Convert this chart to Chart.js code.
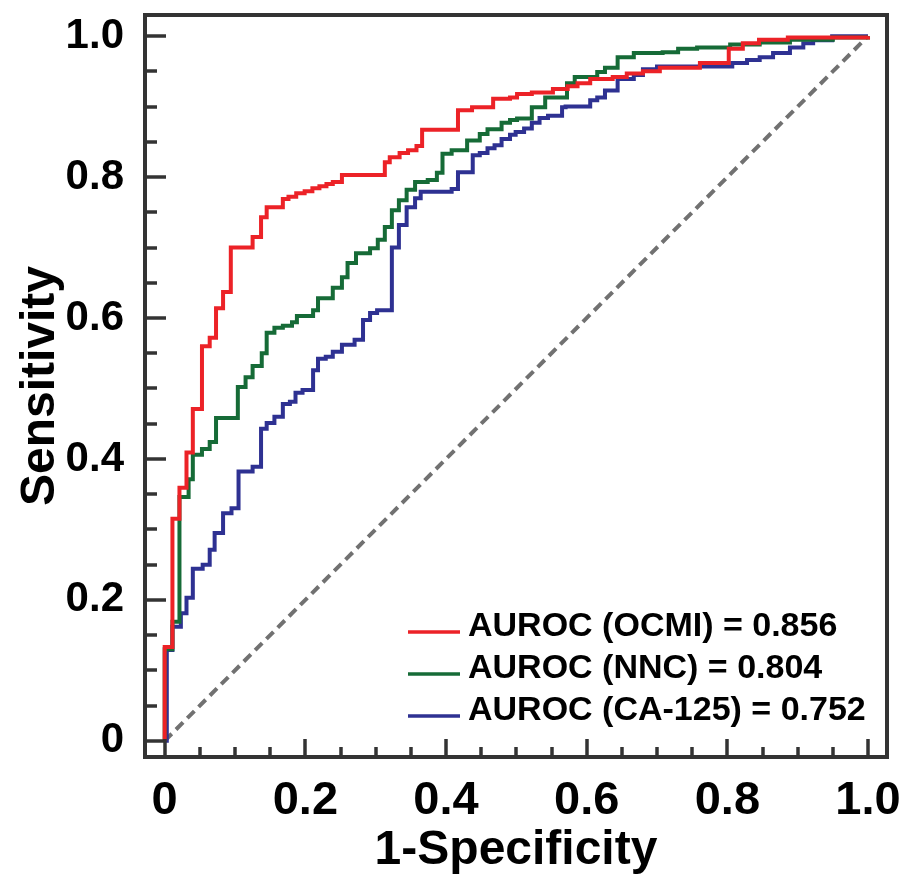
<!DOCTYPE html>
<html>
<head>
<meta charset="utf-8">
<script src="https://cdn.jsdelivr.net/npm/chart.js@4.4.0/dist/chart.umd.min.js"></script>
<style>
  body { margin: 0; background: #fff; }
  #wrap { width: 909px; height: 876px; }
</style>
</head>
<body>
<div id="wrap"><canvas id="roc" width="909" height="876"></canvas></div>
<script>
// Данные ROC-кривых (x = 1-Specificity, y = Sensitivity), ступеньки
const ocmiPoints = [
    [0, 0], [0, 0.133], [0.011, 0.315], [0.021, 0.359], [0.031, 0.409], [0.040, 0.471],
    [0.053, 0.560], [0.064, 0.572], [0.073, 0.614], [0.083, 0.637], [0.094, 0.700],
    [0.125, 0.715], [0.137, 0.743], [0.145, 0.757], [0.168, 0.769], [0.176, 0.772],
    [0.187, 0.777], [0.199, 0.780], [0.210, 0.784], [0.220, 0.787], [0.230, 0.790],
    [0.239, 0.793], [0.252, 0.803], [0.313, 0.821], [0.320, 0.828], [0.334, 0.834],
    [0.346, 0.838], [0.358, 0.844], [0.366, 0.867], [0.417, 0.895], [0.437, 0.899],
    [0.467, 0.911], [0.491, 0.913], [0.501, 0.918], [0.522, 0.920], [0.552, 0.925],
    [0.573, 0.929], [0.587, 0.933], [0.605, 0.939], [0.637, 0.942], [0.657, 0.947],
    [0.680, 0.950], [0.704, 0.955], [0.761, 0.962], [0.802, 0.982], [0.822, 0.990],
    [0.845, 0.995], [0.886, 0.998], [1.0, 1.0]
];
const nncPoints = [
    [0, 0], [0, 0.130], [0.011, 0.169], [0.021, 0.346], [0.034, 0.371], [0.040, 0.406],
    [0.053, 0.414], [0.064, 0.424], [0.073, 0.458], [0.104, 0.502], [0.115, 0.516],
    [0.125, 0.532], [0.138, 0.550], [0.145, 0.579], [0.156, 0.586], [0.168, 0.589],
    [0.181, 0.594], [0.188, 0.603], [0.211, 0.611], [0.218, 0.628], [0.239, 0.643],
    [0.252, 0.658], [0.260, 0.678], [0.272, 0.692], [0.292, 0.699], [0.303, 0.711],
    [0.313, 0.729], [0.323, 0.753], [0.333, 0.767], [0.344, 0.782], [0.356, 0.793],
    [0.374, 0.796], [0.387, 0.806], [0.395, 0.833], [0.408, 0.838], [0.430, 0.852],
    [0.448, 0.861], [0.459, 0.868], [0.479, 0.877], [0.491, 0.881], [0.501, 0.883],
    [0.522, 0.899], [0.541, 0.913], [0.572, 0.933], [0.583, 0.942], [0.615, 0.949],
    [0.626, 0.955], [0.644, 0.970], [0.667, 0.976], [0.708, 0.977], [0.730, 0.982],
    [0.757, 0.984], [0.804, 0.988], [0.846, 0.991], [0.889, 0.995], [0.950, 0.998],
    [1.0, 1.0]
];
const ca125Points = [
    [0, 0], [0.003, 0.129], [0.011, 0.162], [0.023, 0.181], [0.031, 0.203], [0.040, 0.244],
    [0.054, 0.250], [0.064, 0.271], [0.071, 0.295], [0.083, 0.323], [0.095, 0.330],
    [0.105, 0.382], [0.125, 0.389], [0.137, 0.443], [0.145, 0.451], [0.156, 0.460],
    [0.168, 0.478], [0.178, 0.481], [0.186, 0.494], [0.196, 0.498], [0.211, 0.526],
    [0.218, 0.542], [0.229, 0.545], [0.239, 0.552], [0.252, 0.562], [0.270, 0.569],
    [0.282, 0.597], [0.292, 0.607], [0.302, 0.611], [0.323, 0.700], [0.333, 0.732],
    [0.344, 0.757], [0.356, 0.770], [0.364, 0.779], [0.408, 0.783], [0.417, 0.807],
    [0.438, 0.831], [0.448, 0.834], [0.459, 0.841], [0.469, 0.845], [0.479, 0.854],
    [0.491, 0.860], [0.499, 0.864], [0.511, 0.869], [0.522, 0.877], [0.533, 0.884],
    [0.545, 0.887], [0.565, 0.899], [0.570, 0.900], [0.605, 0.909], [0.615, 0.913],
    [0.626, 0.923], [0.644, 0.939], [0.667, 0.945], [0.680, 0.953], [0.700, 0.957],
    [0.807, 0.962], [0.828, 0.966], [0.846, 0.970], [0.865, 0.976], [0.889, 0.984],
    [0.908, 0.990], [0.922, 0.994], [0.949, 1.0], [1.0, 1.0]
];
const chancePoints = [[0, 0], [1, 1]];

const seriesLabels = ['AUROC (OCMI) = 0.856', 'AUROC (NNC) = 0.804', 'AUROC (CA-125) = 0.752'];
const seriesColors = ['#ec2227', '#166b37', '#2e3192'];

const tickValues = [0, 0.2, 0.4, 0.6, 0.8, 1.0];
const tickLabels = ['0', '0.2', '0.4', '0.6', '0.8', '1.0'];
const minorStep = 0.05;

const FONT = '"Liberation Sans", Arial, sans-serif';
const toXY = arr => arr.map(p => ({ x: p[0], y: p[1] }));

// Рамка и засечки внутрь области графика
const framePlugin = {
    id: 'frame',
    afterDraw(chart) {
        const { ctx, chartArea: a, scales } = chart;
        ctx.save();
        ctx.strokeStyle = '#333';
        ctx.lineWidth = 3.5;
        for (let i = 0; i <= 20; i++) {
            const v = i * minorStep;
            const major = i % 4 === 0;
            const py = Math.round(scales.y.getPixelForValue(v));
            ctx.beginPath();
            ctx.moveTo(a.left, py);
            ctx.lineTo(a.left + (major ? 21 : 12), py);
            ctx.stroke();
            const px = Math.round(scales.x.getPixelForValue(v));
            ctx.beginPath();
            ctx.moveTo(px, a.bottom);
            ctx.lineTo(px, a.bottom - (major ? 18 : 10));
            ctx.stroke();
        }
        ctx.lineWidth = 4;
        ctx.strokeRect(a.left, a.top, a.right - a.left, a.bottom - a.top);
        ctx.restore();
    }
};

// Легенда внутри области графика, справа снизу
const legendPlugin = {
    id: 'insideLegend',
    afterDraw(chart) {
        const { ctx, chartArea: a } = chart;
        ctx.save();
        ctx.font = 'bold 34px ' + FONT;
        ctx.textBaseline = 'middle';
        ctx.textAlign = 'left';
        seriesLabels.forEach((label, i) => {
            const y = a.bottom - 125 + i * 42;
            ctx.strokeStyle = seriesColors[i];
            ctx.lineWidth = 3.5;
            ctx.beginPath();
            ctx.moveTo(a.left + 263, y);
            ctx.lineTo(a.left + 315, y);
            ctx.stroke();
            ctx.fillStyle = '#000';
            ctx.fillText(label, a.left + 323, y - 5);
        });
        ctx.restore();
    }
};

const lineSet = (label, pts, color) => ({
    label: label,
    data: toXY(pts),
    borderColor: color,
    borderWidth: 4,
    pointRadius: 0,
    stepped: true,
    fill: false
});

new Chart(document.getElementById('roc'), {
    type: 'line',
    data: {
        datasets: [
            lineSet(seriesLabels[0], ocmiPoints, seriesColors[0]),
            lineSet(seriesLabels[1], nncPoints, seriesColors[1]),
            lineSet(seriesLabels[2], ca125Points, seriesColors[2]),
            {
                label: 'chance',
                data: toXY(chancePoints),
                borderColor: '#717171',
                borderWidth: 4,
                borderDash: [10, 6],
                pointRadius: 0,
                fill: false
            }
        ]
    },
    options: {
        responsive: false,
        animation: false,
        layout: { padding: { top: 15, right: 22, left: 0, bottom: 0 } },
        plugins: { legend: { display: false }, tooltip: { enabled: false } },
        scales: {
            x: {
                type: 'linear',
                min: -0.028,
                max: 1.027,
                grid: { display: false },
                border: { display: false },
                afterBuildTicks: s => { s.ticks = tickValues.map(v => ({ value: v })); },
                afterFit: s => { s.height = 119; s.paddingLeft = 0; s.paddingRight = 0; },
                ticks: {
                    padding: 8,
                    color: '#000',
                    maxRotation: 0,
                    font: { family: FONT, size: 47, weight: 'bold' },
                    callback: (v) => tickLabels[tickValues.findIndex(t => Math.abs(t - v) < 1e-6)]
                },
                title: {
                    display: true,
                    text: '1-Specificity',
                    color: '#000',
                    padding: { top: 0, bottom: -4 },
                    font: { family: FONT, size: 48, weight: 'bold' }
                }
            },
            y: {
                type: 'linear',
                min: -0.023,
                max: 1.03,
                grid: { display: false },
                border: { display: false },
                afterBuildTicks: s => { s.ticks = tickValues.map(v => ({ value: v })); },
                afterFit: s => { s.width = 145; s.paddingTop = 0; s.paddingBottom = 0; },
                ticks: {
                    padding: 13,
                    color: '#000',
                    font: { family: FONT, size: 42, weight: 'bold' },
                    callback: (v) => tickLabels[tickValues.findIndex(t => Math.abs(t - v) < 1e-6)]
                },
                title: {
                    display: true,
                    text: 'Sensitivity',
                    color: '#000',
                    padding: { top: 12, bottom: 0 },
                    font: { family: FONT, size: 48, weight: 'bold' }
                }
            }
        }
    },
    plugins: [framePlugin, legendPlugin]
});
</script>
</body>
</html>
